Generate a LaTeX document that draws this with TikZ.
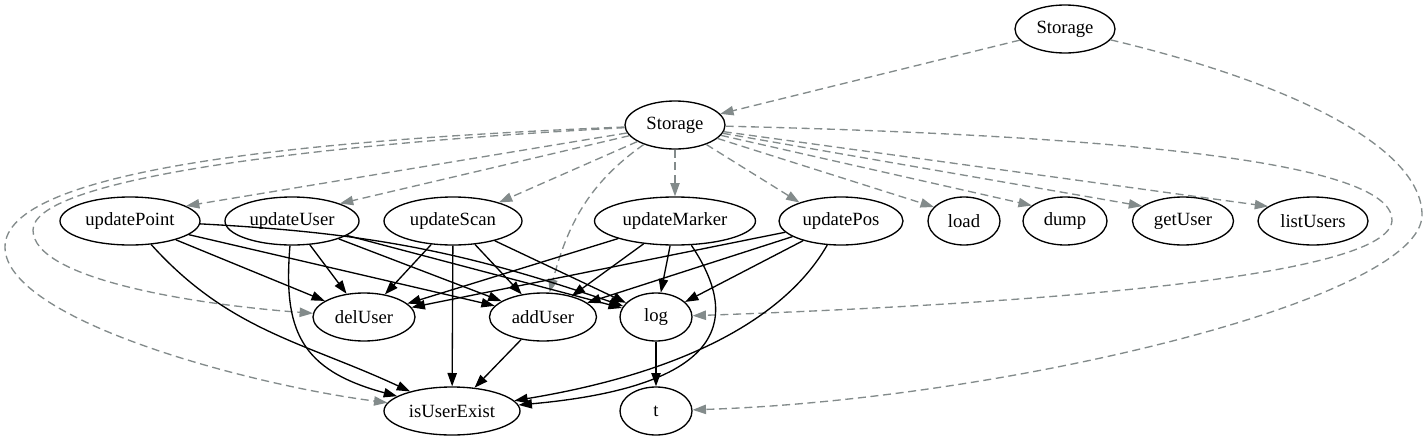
\documentclass[tikz,border=0pt]{standalone}
\usepackage{fontspec}
\setmainfont{Liberation Serif}
\usepackage{tikz}
\usetikzlibrary{arrows.meta,shapes.geometric}
\definecolor{edgegray}{RGB}{131,139,139}

\begin{document}
\begin{tikzpicture}[x=0.75pt,y=0.75pt,
		fn/.style={ellipse,draw,line width=1pt,inner sep=0pt,minimum height=36pt,font=\fontsize{14}{16}\selectfont},
		call/.style={line width=1pt,-{Triangle[length=10pt,width=7pt]}},
		use/.style={call,edgegray,dash pattern=on 6pt off 3.5pt}]
			
			\useasboundingbox (0,0) rectangle (1428,-443);
			
			\node[fn,minimum width=75pt] (store) at (1065,-29) {Storage};
			\node[fn,minimum width=75pt] (storage) at (675,-125) {Storage};
			
			\node[fn,minimum width=105pt] (updatePoint) at (130,-221) {updatePoint};
			\node[fn,minimum width=100.5pt] (updateUser) at (292,-221) {updateUser};
			\node[fn,minimum width=103.5pt] (updateScan) at (453,-221) {updateScan};
			\node[fn,minimum width=120.75pt] (updateMarker) at (675,-221) {updateMarker};
			\node[fn,minimum width=93pt] (updatePos) at (841,-221) {updatePos};
			\node[fn,minimum width=54pt] (load) at (964,-221) {load};
			\node[fn,minimum width=63pt] (dump) at (1065,-221) {dump};
			\node[fn,minimum width=75.75pt] (getUser) at (1183,-221) {getUser};
			\node[fn,minimum width=82.5pt] (listUsers) at (1313,-221) {listUsers};
			
			\node[fn,minimum width=76.5pt] (delUser) at (364,-317) {delUser};
			\node[fn,minimum width=80.25pt] (addUser) at (543,-317) {addUser};
			\node[fn,minimum width=54pt] (log) at (656,-317) {log};
			\node[fn,minimum width=102pt] (isUserExist) at (452,-411) {isUserExist};
			\node[fn,minimum width=54pt] (t) at (656,-411) {t};
			
			% dashed: Storage members
			\draw[use] (store) -- (storage);
			\draw[use] (store) .. controls (1300,-85) and (1422,-150) .. (1422,-215) .. controls (1422,-300) and (1000,-400) .. (t);
			\foreach \m/\a in {updatePoint/15,updateUser/20,updateScan/22,updateMarker/90,updatePos/156,load/155,dump/155,getUser/160,listUsers/162}
				\draw[use] (storage) -- (\m.\a);
			\draw[use] (storage.212) to[out=215,in=75] (addUser);
			\draw[use] (storage) .. controls (300,-145) and (33,-180) .. (33,-230) .. controls (33,-280) and (200,-305) .. (delUser);
			\draw[use] (storage) .. controls (300,-140) and (5,-170) .. (5,-247) .. controls (5,-320) and (250,-385) .. (isUserExist);
			\draw[use] (storage) .. controls (1100,-135) and (1392,-160) .. (1392,-220) .. controls (1392,-280) and (1000,-305) .. (log);
			
			% solid: calls
			\foreach \s/\e in {updatePoint/delUser,updatePoint/addUser,updateUser/delUser,updateUser/addUser,updateUser/log,updateScan/delUser,updateScan/addUser,updateScan/log,updateScan/isUserExist,updateMarker/delUser,updateMarker/addUser,updateMarker/log,updatePos/delUser,updatePos/addUser,updatePos/log,addUser/isUserExist,log/t}
				\draw[call] (\s) -- (\e);
			\draw[call] (updatePoint) to[bend left=8] (log);
			\draw[call] (updatePoint) to[out=-48,in=155] (isUserExist);
			\draw[call] (updateUser) .. controls (283,-330) and (300,-370) .. (isUserExist);
			\draw[call] (updateMarker) .. controls (735,-310) and (740,-385) .. (isUserExist);
			\draw[call] (updatePos) .. controls (790,-310) and (700,-370) .. (isUserExist);
		\end{tikzpicture}
\end{document}
